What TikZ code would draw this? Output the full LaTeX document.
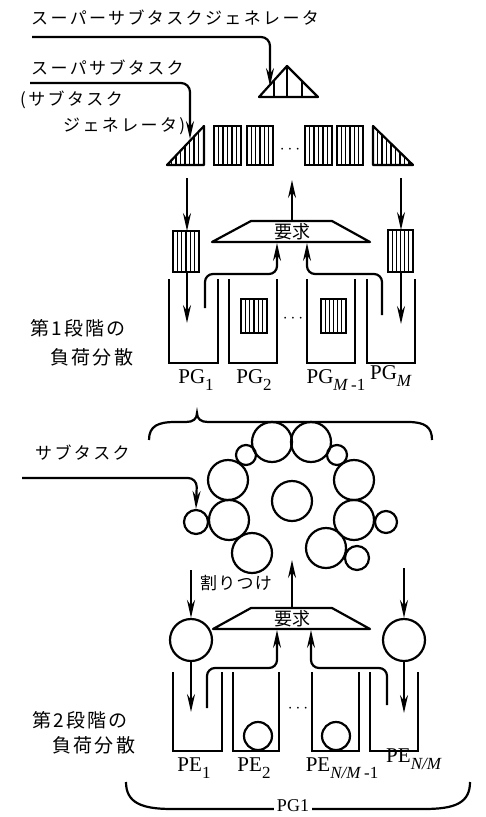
\documentclass[tikz,border=0pt]{standalone}
\usepackage{fontspec}
\setmainfont{Liberation Serif}
\newfontfamily\jp{Noto Sans CJK JP}
\newfontfamily\jpw[LetterSpace=14]{Noto Sans CJK JP}
\newfontfamily\jpk[LetterSpace=12]{Noto Sans CJK JP}
\newfontfamily\jpa[LetterSpace=7]{Noto Sans CJK JP}
\usetikzlibrary{arrows.meta}
\tikzset{
  ln/.style={line width=2.2pt},
  thn/.style={line width=1.2pt},
  arr/.style={ln,-{Stealth[length=18pt,width=8pt,inset=6pt]}},
  jlab/.style={anchor=west,inner sep=0pt,font=\jpw\fontsize{17}{17}\selectfont},
  klab/.style={anchor=west,inner sep=0pt,font=\jpk\fontsize{19}{19}\selectfont},
  alab/.style={anchor=west,inner sep=0pt,font=\jpa\fontsize{17}{17}\selectfont},
  req/.style={inner sep=0pt,font=\jp\fontsize{18}{18}\selectfont},
  pglab/.style={inner sep=0pt,font=\fontsize{21}{21}\selectfont},
  dots/.style={inner sep=0pt,font=\fontsize{18}{18}\selectfont},
  circ/.style={ln,circle,draw,inner sep=0pt}
}
\newcommand\hatchbox[4]{%
  \draw[ln] (#1,#2) rectangle (#3,#4);
  \foreach \i in {1,...,5}{\draw[thn] ({#1+\i*(#3-#1)/6},#2) -- ({#1+\i*(#3-#1)/6},#4);}
}
\newcommand\sub[1]{\raisebox{-0.32em}{\fontsize{17}{17}\selectfont #1}}
\begin{document}
\begin{tikzpicture}[x=1pt,y=-1pt]
\useasboundingbox (0,0) rectangle (486,817);

% ---- labels top
\node[jlab] (lsg) at (31,18) {スーパーサブタスクジェネレータ};
\node[jlab] (lss) at (31,68) {スーパサブタスク};
\node[jlab] (lsg2) at (20,100) {(サブタスク};
\node[jlab] (lsg3) at (63,126) {ジェネレータ)};

% super-subtask generator triangle
\begin{scope}
  \clip (259,97) -- (318,97) -- (287,66) -- cycle;
  \foreach \x in {274,287,302} \draw[thn] (\x,60) -- (\x,100);
\end{scope}
\draw[ln,line join=round] (259,97) -- (318,97) -- (287,66) -- cycle;
\coordinate (gen) at (270,86);

% row of super-subtasks
\begin{scope}
  \clip (167,165) -- (204,165) -- (204,126) -- cycle;
  \foreach \x in {171.5,176,...,201} \draw[thn] (\x,120) -- (\x,170);
\end{scope}
\draw[ln,line join=round] (167,165) -- (204,165) -- (204,126) -- cycle;
\hatchbox{214}{126}{241}{165}
\hatchbox{247}{126}{273}{165}
\node[dots] (d0) at (290,150) {$\cdots$};
\hatchbox{305}{126}{332}{165}
\hatchbox{337}{126}{363}{165}
\begin{scope}
  \clip (373,126) -- (373,165) -- (413,165) -- cycle;
  \foreach \x in {377.5,382,...,411} \draw[thn] (\x,120) -- (\x,170);
\end{scope}
\draw[ln,line join=round] (373,126) -- (373,165) -- (413,165) -- cycle;
\coordinate (sst) at (190,139);

% label leaders
\coordinate (l1s) at (32,37);
\coordinate (l1c) at (270,37);
\draw[arr,rounded corners=9] (l1s) -- (l1c) -- (gen);
\coordinate (l2s) at (30,83);
\coordinate (l2c) at (190,83);
\draw[arr,rounded corners=9] (l2s) -- (l2c) -- (sst);

% ---- stage 1
\coordinate (a1s) at (187,178); \coordinate (a1e) at (187,231);
\coordinate (a1b) at (187,272); \coordinate (a1f) at (187,323);
\coordinate (a2s) at (401,178); \coordinate (a2e) at (401,230);
\coordinate (a2b) at (401,272); \coordinate (a2f) at (401,324);
\draw[arr] (a1s) -- (a1e);
\draw[arr] (a1b) -- (a1f);
\draw[arr] (a2s) -- (a2e);
\draw[arr] (a2b) -- (a2f);
\hatchbox{173}{231}{199}{272}
\hatchbox{388}{230}{413}{272}

\draw[ln,line join=round] (251,221) -- (332,221) -- (370,242) -- (212,242) -- cycle;
\node[req] (rq1) at (292,232) {要求};
\coordinate (up1s) at (292,221); \coordinate (up1e) at (292,180);
\draw[arr] (up1s) -- (up1e);

\coordinate (c1a) at (205,308); \coordinate (c1b) at (205,274);
\coordinate (c1c) at (277,274); \coordinate (c1d) at (277,243);
\draw[arr,rounded corners=8] (c1a) -- (c1b) -- (c1c) -- (c1d);
\coordinate (c2a) at (382,315); \coordinate (c2b) at (382,274);
\coordinate (c2c) at (307,274); \coordinate (c2d) at (307,243);
\draw[arr,rounded corners=8] (c2a) -- (c2b) -- (c2c) -- (c2d);

\draw[ln] (169,279) -- (169,363) -- (218,363) -- (218,279);
\draw[ln] (229,279) -- (229,363) -- (277,363) -- (277,279);
\draw[ln] (307,279) -- (307,363) -- (355,363) -- (355,279);
\draw[ln] (367,279) -- (367,363) -- (415,363) -- (415,279);
\hatchbox{241}{299}{267}{333}
\hatchbox{321}{299}{346}{333}
\node[dots] (d1) at (293,319) {$\cdots$};

\node[pglab] (pg1) at (196,380) {PG\sub{1}};
\node[pglab] (pg2) at (254,380) {PG\sub{2}};
\node[pglab] (pgm1) at (336,380) {PG\sub{\textit{M}\,-1}};
\node[pglab] (pgm) at (391,376) {PG\sub{\textit{M}}};

\node[klab] (st1a) at (30,328) {第1段階の};
\node[klab] (st1b) at (50,357) {負荷分散};

% ---- brace top
\draw[ln] (149,440) .. controls (149,426) and (158,422) .. (175,422)
  -- (186,422) .. controls (193,422) and (197,419) .. (197,413)
  .. controls (197,419) and (201,422) .. (208,422)
  -- (408,422) .. controls (425,422) and (432,427) .. (432,440);

% subtasks pool
\node[circ,minimum size=40pt] (p1) at (272,442) {};
\node[circ,minimum size=40pt] (p2) at (311,442) {};
\node[circ,minimum size=20pt] (p3) at (246,455) {};
\node[circ,minimum size=20pt] (p4) at (337,455) {};
\node[circ,minimum size=40pt] (p5) at (228,480) {};
\node[circ,minimum size=40pt] (p6) at (354,480) {};
\node[circ,minimum size=40pt] (p7) at (292,501) {};
\node[circ,minimum size=40pt] (p8) at (229,520) {};
\node[circ,minimum size=24pt] (p9) at (196,522) {};
\node[circ,minimum size=40pt] (p10) at (354,520) {};
\node[circ,minimum size=22pt] (p11) at (386,522) {};
\node[circ,minimum size=40pt] (p12) at (252,553) {};
\node[circ,minimum size=40pt] (p13) at (326,548) {};
\node[circ,minimum size=24pt] (p14) at (357,558) {};

\node[jlab] (lst) at (35,453) {サブタスク};
\coordinate (l3s) at (22,478);
\coordinate (l3c) at (197,478);
\draw[arr,rounded corners=9] (l3s) -- (l3c) -- (p9.north);

% ---- stage 2
\node[alab] (wa) at (200,583) {割りつけ};
\node[circ,minimum size=42pt] (q1) at (191,640) {};
\node[circ,minimum size=42pt] (q2) at (404,640) {};
\coordinate (b1s) at (191,570);
\coordinate (b2s) at (404,568);
\draw[arr] (b1s) -- (q1.north);
\draw[arr] (b2s) -- (q2.north);
\coordinate (b1f) at (191,712);
\coordinate (b2f) at (404,713);
\draw[arr] (q1.south) -- (b1f);
\draw[arr] (q2.south) -- (b2f);

\draw[ln,line join=round] (251,608) -- (332,608) -- (370,629) -- (213,629) -- cycle;
\node[req] (rq2) at (292,619) {要求};
\coordinate (up2s) at (292,608); \coordinate (up2e) at (292,560);
\draw[arr] (up2s) -- (up2e);

\coordinate (e1a) at (207,708); \coordinate (e1b) at (207,668);
\coordinate (e1c) at (277,668); \coordinate (e1d) at (277,630);
\draw[arr,rounded corners=8] (e1a) -- (e1b) -- (e1c) -- (e1d);
\coordinate (e2a) at (387,705); \coordinate (e2b) at (387,668);
\coordinate (e2c) at (311,668); \coordinate (e2d) at (311,630);
\draw[arr,rounded corners=8] (e2a) -- (e2b) -- (e2c) -- (e2d);

\draw[ln] (173,672) -- (173,751) -- (222,751) -- (222,672);
\draw[ln] (233,672) -- (233,751) -- (279,751) -- (279,672);
\draw[ln] (312,672) -- (312,751) -- (359,751) -- (359,672);
\draw[ln] (370,672) -- (370,751) -- (418,751) -- (418,672);
\node[circ,minimum size=28pt] (r1) at (258,736) {};
\node[circ,minimum size=28pt] (r2) at (336,736) {};
\node[dots] (d2) at (298,709) {$\cdots$};

\node[pglab] (pe1) at (194,768) {PE\sub{1}};
\node[pglab] (pe2) at (254,768) {PE\sub{2}};
\node[pglab] (pen1) at (342,768) {PE\sub{\textit{N/M}\,-1}};
\node[pglab] (pen) at (414,759) {PE\sub{\textit{N/M}}};

\node[klab] (st2a) at (32,720) {第2段階の};
\node[klab] (st2b) at (52,745) {負荷分散};

% bottom brace
\draw[ln] (126,782) .. controls (126,803) and (142,809) .. (172,809)
  -- (424,809) .. controls (455,809) and (470,803) .. (470,782);
\node[pglab,fill=white,inner xsep=3pt,font=\fontsize{18}{18}\selectfont] (pgone) at (293,806) {PG1};
\end{tikzpicture}
\end{document}
